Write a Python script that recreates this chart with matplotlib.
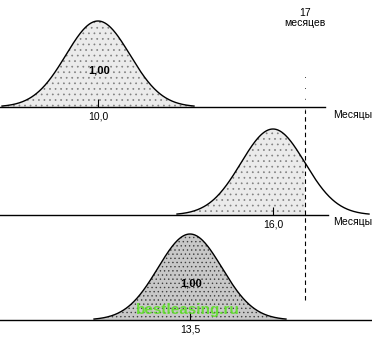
import matplotlib.pyplot as plt
import numpy as np

plt.rcParams['font.family'] = ['Liberation Sans', 'DejaVu Sans']
plt.rcParams['hatch.linewidth'] = 0.5

# durations (months) of the three estimates
means = [10.0, 16.0, 13.5]
sigma = 1.0
mean_labels = ["10,0", "16,0", "13,5"]
prob_labels = ["1,00", None, "1,00"]
deadline = 17.0
deadline_label = "17\nмесяцев"
axis_label = "Месяцы"

W, H = 372, 339
fig = plt.figure(figsize=(W / 100, H / 100), dpi=100)

px_per_month = 32.0
mean_px = [98, 273, 190]        # horizontal position of each mean
base_px = [107, 215, 320]       # baseline row of each panel
line_end_px = [325, 328, 372]
fills = ['#ebebeb', '#ebebeb', '#c8c8c8']
dots = ['#808080', '#808080', '#404040']
hatches = ['...', '...', '....']

axes = []
for i, mu in enumerate(means):
    ax = fig.add_axes([0, (H - base_px[i]) / H, 1, 100 / H])
    x0 = mu - mean_px[i] / px_per_month
    x1 = x0 + W / px_per_month
    ax.set_xlim(x0, x1)
    ax.set_ylim(0, 0.3989 * 100 / 86)
    x = np.linspace(mu - 3 * sigma, mu + 3 * sigma, 300)
    y = np.exp(-0.5 * ((x - mu) / sigma) ** 2) / (sigma * np.sqrt(2 * np.pi))
    ax.plot(x, y, color='black', lw=1.0)
    m = x <= deadline if i == 1 else np.ones_like(x, bool)
    ax.fill_between(x[m], 0, y[m], facecolor=fills[i], edgecolor=dots[i],
                    hatch=hatches[i], lw=0)
    for s in ['top', 'left', 'right']:
        ax.spines[s].set_visible(False)
    ax.spines['bottom'].set_bounds(x0, x0 + line_end_px[i] / px_per_month)
    ax.spines['bottom'].set_linewidth(1.0)
    ax.set_yticks([])
    ax.set_xticks([mu])
    ax.set_xticklabels([mean_labels[i]], fontsize=7.5)
    ax.tick_params(axis='x', direction='in', length=6, width=0.8, pad=3)
    ax.patch.set_visible(False)
    if prob_labels[i]:
        ax.text(mu + 0.05, 0.42 * y.max(), prob_labels[i],
                ha='center', va='center', fontsize=8, fontweight='bold')
    axes.append(ax)

ax1, ax2, ax3 = axes
ax1.text(1.0, -0.08, axis_label, transform=ax1.transAxes, ha='right', va='center', fontsize=7.5)
ax2.text(1.0, -0.07, axis_label, transform=ax2.transAxes, ha='right', va='center', fontsize=7.5)

# deadline marker
ax2.axvline(deadline, ymin=-0.85, ymax=1.05, clip_on=False, color='black',
            lw=0.8, ls=(0, (4, 3)))
ax2.axvline(deadline, ymin=1.05, ymax=1.42, clip_on=False, color='black',
            lw=0.6, ls=(0, (1, 12)))
ax2.text(deadline, 2.07, deadline_label, transform=ax2.get_xaxis_transform(),
         ha='center', va='top', fontsize=7.5, linespacing=0.95, clip_on=False)

fig.text(188 / W, 1 - 310 / H, "bestleasing.ru", color='#5fe02a', fontsize=11,
         fontweight='bold', ha='center', va='center', alpha=0.9)

fig.savefig("out.png", dpi=100)
